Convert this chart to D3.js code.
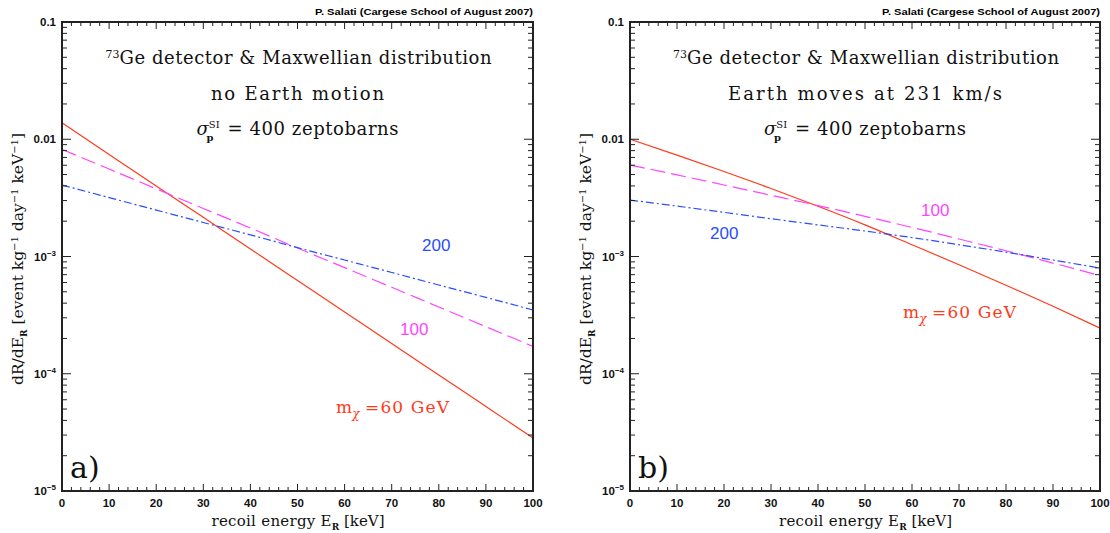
<!DOCTYPE html>
<html><head><meta charset="utf-8">
<script src="https://cdn.jsdelivr.net/npm/d3@7"></script>
<style>body{margin:0;background:#fff}svg{display:block}</style>
</head><body>
<svg id="c" width="1110" height="533"></svg>
<script>
// ---- data ----
const energies = [0,10,20,30,40,50,60,70,80,90,100];
// panel a) no Earth motion
const aRed60   = [1.38e-2,7.43e-3,4.00e-3,2.16e-3,1.16e-3,6.25e-4,3.37e-4,1.81e-4,9.77e-5,5.26e-5,2.83e-5];
const aMag100  = [8.20e-3,5.57e-3,3.78e-3,2.57e-3,1.75e-3,1.18e-3,8.04e-4,5.46e-4,3.71e-4,2.52e-4,1.71e-4];
const aBlue200 = [4.07e-3,3.18e-3,2.49e-3,1.95e-3,1.53e-3,1.19e-3,9.33e-4,7.31e-4,5.71e-4,4.48e-4,3.50e-4];
// panel b) Earth moves at 231 km/s
const bRed60   = [1.00e-2,7.33e-3,5.31e-3,3.80e-3,2.68e-3,1.86e-3,1.26e-3,8.51e-4,5.69e-4,3.76e-4,2.45e-4];
const bMag100  = [6.03e-3,4.97e-3,4.07e-3,3.33e-3,2.72e-3,2.20e-3,1.77e-3,1.41e-3,1.12e-3,8.79e-4,6.87e-4];
const bBlue200 = [3.03e-3,2.69e-3,2.38e-3,2.10e-3,1.86e-3,1.65e-3,1.45e-3,1.26e-3,1.09e-3,9.33e-4,7.98e-4];
const xTicks = [0,10,20,30,40,50,60,70,80,90,100];
const yDecades = [1e-5,1e-4,1e-3,1e-2,1e-1];
const yTickLabels = [["10","-5"],["10","-4"],["10","-3"],["0.01",""],["0.1",""]];

const RED="#ff3a1a", MAG="#ff44ff", BLUE="#2a4dff", AX="#222";
const svg = d3.select("#c");
const serif = "'DejaVu Serif', 'Liberation Serif', serif";
const sans = "'Liberation Sans', Arial, sans-serif";

function panel(x0, x1, series, lines, labels, letter){
  const y0=22, y1=491;
  const x = d3.scaleLinear().domain([0,100]).range([x0,x1]);
  const y = d3.scaleLog().domain([1e-5,1e-1]).range([y1,y0]);
  const g = svg.append("g");
  const cx=(x0+x1)/2;
  // curves
  const line = d3.line().x((d,i)=>x(energies[i])).y(d=>y(d)).curve(d3.curveMonotoneX);
  const styles=[{c:RED,d:null},{c:MAG,d:"15,6"},{c:BLUE,d:"8,3,2,3"}];
  series.forEach((s,k)=>{
    g.append("path").attr("d",line(s)).attr("fill","none")
     .attr("stroke",styles[k].c).attr("stroke-width",1.2)
     .attr("stroke-dasharray",styles[k].d);
  });
  // x ticks
  for(let v=0; v<=100; v+=2){
    const major = v%10===0, L = major?7:4;
    g.append("line").attr("x1",x(v)).attr("x2",x(v)).attr("y1",y1).attr("y2",y1-L).attr("stroke",AX).attr("stroke-width",1);
    g.append("line").attr("x1",x(v)).attr("x2",x(v)).attr("y1",y0).attr("y2",y0+L).attr("stroke",AX).attr("stroke-width",1);
  }
  xTicks.forEach(v=>{
    g.append("text").attr("x",x(v)).attr("y",507).attr("text-anchor","middle")
     .attr("font-family",sans).attr("font-weight","bold").attr("font-size",11.5).attr("fill","#111").text(v);
  });
  // y ticks
  yDecades.forEach((dv,i)=>{
    [1,2,3,4,5,6,7,8,9].forEach(m=>{
      const v=dv*m; if(v>0.1) return;
      const L = m===1?9:5;
      g.append("line").attr("x1",x0).attr("x2",x0+L).attr("y1",y(v)).attr("y2",y(v)).attr("stroke",AX).attr("stroke-width",1);
      g.append("line").attr("x1",x1).attr("x2",x1-L).attr("y1",y(v)).attr("y2",y(v)).attr("stroke",AX).attr("stroke-width",1);
    });
    const t = g.append("text").attr("x",x0-6).attr("y",y(dv)+4).attr("text-anchor","end")
      .attr("font-family",sans).attr("font-weight","bold").attr("font-size",11.5).attr("fill","#111");
    t.append("tspan").text(yTickLabels[i][0]);
    if(yTickLabels[i][1]) t.append("tspan").attr("dy",-5).attr("font-size",8).text(yTickLabels[i][1].replace("-","\u2212"));
  });
  // frame
  g.append("rect").attr("x",x0).attr("y",y0).attr("width",x1-x0).attr("height",y1-y0)
   .attr("fill","none").attr("stroke",AX).attr("stroke-width",2);
  // credit
  g.append("text").attr("x",x1).attr("y",15).attr("text-anchor","end").attr("font-family",sans)
   .attr("font-weight","bold").attr("font-size",9.5).attr("textLength",218).attr("lengthAdjust","spacingAndGlyphs")
   .text("P. Salati (Cargese School of August 2007)");
  // titles
  const t1=g.append("text").attr("x",cx-192).attr("y",64).attr("font-family",serif).attr("font-size",18).attr("fill","#111");
  t1.append("tspan").attr("font-size",11).attr("dy",-6).text("73");
  t1.append("tspan").attr("dy",6).attr("textLength",372).attr("lengthAdjust","spacing").text("Ge detector & Maxwellian distribution");
  g.append("text").attr("x",cx-lines[1]/2).attr("y",100).attr("font-family",serif).attr("font-size",18).attr("fill","#111")
   .attr("textLength",lines[1]).attr("lengthAdjust","spacing").text(lines[0]);
  const t3=g.append("text").attr("x",cx-101).attr("y",135).attr("font-family",serif).attr("font-size",18).attr("fill","#111");
  t3.append("tspan").attr("font-style","italic").text("σ");
  t3.append("tspan").attr("font-size",10).attr("dy",-7).text("SI");
  t3.append("tspan").attr("font-size",10).attr("dx",-13).attr("dy",13).attr("font-weight","bold").text("p");
  t3.append("tspan").attr("x",cx-70).attr("dy",-6).attr("textLength",171).attr("lengthAdjust","spacing").text("= 400 zeptobarns");
  // curve labels
  labels.forEach(l=>{
    if(l.m){
      const t=g.append("text").attr("x",l.x).attr("y",l.y).attr("font-family",serif).attr("font-size",17).attr("fill",RED);
      t.append("tspan").text("m");
      t.append("tspan").attr("font-size",12).attr("font-style","italic").attr("dy",5).text("χ");
      t.append("tspan").attr("x",l.x+29).attr("dy",-5).attr("textLength",84).attr("lengthAdjust","spacing").text("=60  GeV");
    } else {
      g.append("text").attr("x",l.x).attr("y",l.y).attr("font-family",sans).attr("font-size",17).attr("fill",l.c).text(l.t);
    }
  });
  // axis labels
  const xl=g.append("text").attr("x",cx-86).attr("y",526).attr("font-family",serif).attr("font-size",15).attr("fill","#111");
  xl.append("tspan").attr("textLength",120).attr("lengthAdjust","spacing").text("recoil energy E");
  xl.append("tspan").attr("font-size",9).attr("dy",4).attr("font-weight","bold").text("R");
  xl.append("tspan").attr("dy",-4).text(" [keV]");
  const yl=g.append("text").attr("transform",`translate(${x0-39},259) rotate(-90)`).attr("text-anchor","middle")
    .attr("font-family",serif).attr("font-size",15.5).attr("fill","#111");
  yl.append("tspan").text("dR/dE");
  yl.append("tspan").attr("font-size",9).attr("dy",4).attr("font-weight","bold").text("R");
  yl.append("tspan").attr("dy",-4).text(" [event kg");
  yl.append("tspan").attr("font-size",10).attr("dy",-5).text("−1");
  yl.append("tspan").attr("dy",5).text(" day");
  yl.append("tspan").attr("font-size",10).attr("dy",-5).text("−1");
  yl.append("tspan").attr("dy",5).text(" keV");
  yl.append("tspan").attr("font-size",10).attr("dy",-5).text("−1");
  yl.append("tspan").attr("dy",5).text("]");
  // panel letter
  g.append("text").attr("x",x0+8).attr("y",478).attr("font-family",serif).attr("font-size",30).attr("fill","#111").text(letter);
}

panel(62,533,[aRed60,aMag100,aBlue200],["no Earth motion",173],
  [{t:"200",c:BLUE,x:422,y:251},{t:"100",c:MAG,x:400,y:335},{m:true,x:336,y:413}],"a)");
panel(630,1100,[bRed60,bMag100,bBlue200],["Earth moves at 231 km/s",274],
  [{t:"200",c:BLUE,x:710,y:239},{t:"100",c:MAG,x:921,y:216},{m:true,x:903,y:318}],"b)");
</script>
</body></html>
